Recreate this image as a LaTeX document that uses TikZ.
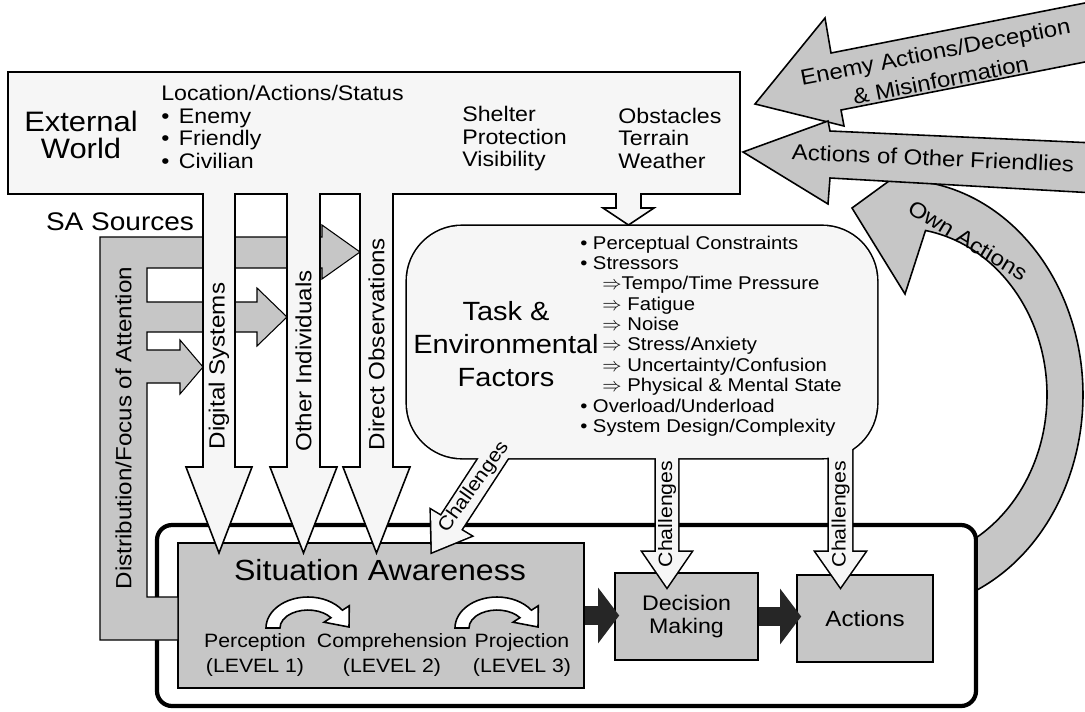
\documentclass[tikz,border=0pt]{standalone}
\usepackage{fontspec}
\setmainfont{Liberation Sans}[FakeStretch=1.1]
\usetikzlibrary{positioning, arrows.meta}

\newcommand{\fsz}[2]{\fontsize{#1}{#2}\selectfont}

\tikzset{
    lightshape/.style = {fill=gray!7, draw=black, line width=0.9pt},
    darkshape/.style = {fill=gray!45, draw=black, line width=0.9pt},
    blockarrow/.style = {draw=black!85, line width=11pt, -{Triangle[length=12pt, width=31pt]}, shorten >=-0.1cm},
    srclabel/.style = {rotate=90, font=\fsz{12.5}{14}},
    chlabel/.style = {font=\fsz{11}{12}},
    darklabel/.style = {font=\fsz{12.4}{16.5}, align=center},
    listtext/.style = {align=left, anchor=west, inner sep=0pt},
}

\begin{document}
\begin{tikzpicture}[x=0.02cm, y=-0.02cm]
    \useasboundingbox[fill=white] (0,0) rectangle (1085,711);

    % frame round SA, decision and actions
    \draw[line width=2.4pt, rounded corners=0.3cm] (157,525) rectangle (976,706);

    \node[darkshape, minimum width=8.12cm, minimum height=2.9cm] (sa) at (381,615.5) {};
    \node[darkshape, minimum width=2.86cm, minimum height=1.74cm, align=center, font=\fsz{12}{13.5}] (dm) at (686.5,616.5) {Decision\\Making};
    \node[darkshape, minimum width=2.72cm, minimum height=1.74cm, font=\fsz{12.5}{14}] (act) at (865,618.5) {Actions};

    \draw[blockarrow] (sa.east) -- (sa.east -| dm.west);
    \draw[blockarrow] (dm.east) -- (dm.east -| act.west);

    % level to level arrows
    \foreach \cx in {308,497}
        \draw[line width=0.9pt, fill=white] ({\cx-42},628) arc[start angle=180, end angle=325, x radius=42, y radius=31]
            -- ++(6.9,-4.5) -- ({\cx+41},627) -- ({\cx+16},622.2) -- ({\cx+22.9},617.7)
            arc[start angle=325, end angle=180, x radius=28, y radius=18] -- cycle;

    % distribution / focus of attention
    \draw[fill=gray!45, draw=black, line width=0.6pt] (100,237) -- (322,237) -- (322,225) -- (360,252) -- (322,279) -- (322,268)
        -- (147,268) -- (147,302) -- (257,302) -- (257,288) -- (287,317) -- (257,346) -- (257,332)
        -- (147,332) -- (147,350) -- (180,350) -- (180,340) -- (203,367) -- (180,394) -- (180,383)
        -- (147,383) -- (147,597) -- (178,597) -- (178,640) -- (100,640) -- cycle;

    % external world with its three sources
    \draw[lightshape] (8,72) -- (740,72) -- (740,194) -- (641,194) -- (641,208) -- (654,208) -- (628.5,225) -- (603,208)
        -- (616,208) -- (616,194) -- (393,194) -- (393,467) -- (410,467) -- (376.5,553) -- (343,467) -- (360,467)
        -- (360,194) -- (320,194) -- (320,467) -- (337,467) -- (303.5,553) -- (270,467) -- (287,467)
        -- (287,194) -- (235,194) -- (235,467) -- (252,467) -- (219,553) -- (186,467) -- (203,467)
        -- (203,194) -- (8,194) -- cycle;

    % task and environmental factors with the challenges
    \def\diagch{(505,418) -- (441,516) -- (431,510) -- (432,552) -- (471,536) -- (461,530) -- (525,432) -- cycle}
    \def\dmch{(656,440) -- (656,552) -- (643,552) -- (667,587) -- (691,552) -- (678,552) -- (678,440) -- cycle}
    \def\actch{(829,440) -- (829,552) -- (816,552) -- (840.5,587) -- (865,552) -- (852,552) -- (852,440) -- cycle}
    \draw[line width=1.8pt, rounded corners=1.1cm] (407,226) rectangle (877,458);
    \draw[line width=1.8pt] \diagch \dmch \actch;
    \fill[gray!7, rounded corners=1.1cm] (407,226) rectangle (877,458);
    \fill[gray!7] \diagch;
    \fill[gray!7] \dmch;
    \fill[gray!7] \actch;

    % own actions
    \draw[darkshape] (977,590) arc[start angle=65.1, end angle=-80, x radius=183, y radius=215]
        -- (937,146) -- (852,208) -- (905,294) -- (925.5,230.5)
        arc[start angle=-80, end angle=58.4, x radius=147, y radius=167] -- cycle;

    % incoming actions
    \draw[darkshape] (1095,1) -- (831,53) -- (825,18) -- (755,104) -- (844,126) -- (841,110) -- (1095,60) -- cycle;
    \draw[darkshape] (1095,143) -- (830,131) -- (828,121) -- (743,152) -- (828,204) -- (830,178) -- (1095,193) -- cycle;

    % labels
    \node[font=\fsz{16}{15}, align=center] (extw) at (81,135) {External\\World};
    \node[listtext, font=\fsz{12}{12.8}] (locs) at (161,127) {Location/Actions/Status\\•\hspace{0.45em}Enemy\\•\hspace{0.45em}Friendly\\•\hspace{0.45em}Civilian};
    \node[listtext, font=\fsz{12}{12.8}] (shelter) at (462,139) {Shelter\\Protection\\Visibility};
    \node[listtext, font=\fsz{12}{12.8}] (obst) at (618,138) {Obstacles\\Terrain\\Weather};

    \node[font=\fsz{14.5}{16}] (sasrc) at (120,222) {SA Sources};
    \node[srclabel] (digi) at (219,366) {Digital Systems};
    \node[srclabel] (other) at (303.5,361) {Other Individuals};
    \node[srclabel] (direct) at (376.5,344) {Direct Observations};
    \node[srclabel] (distr) at (123.5,428) {Distribution/Focus of Attention};

    \node[font=\fsz{15}{18.8}, align=center] (task) at (506,344) {Task \&\\Environmental\\Factors};
    \node[listtext, font=\fsz{10.5}{11.6}] (factors) at (580,336) {•\hspace{0.3em}Perceptual Constraints\\
        •\hspace{0.3em}Stressors\\
        \hspace*{1.2em}$\Rightarrow$Tempo/Time Pressure\\
        \hspace*{1.2em}$\Rightarrow$ Fatigue\\
        \hspace*{1.2em}$\Rightarrow$ Noise\\
        \hspace*{1.2em}$\Rightarrow$ Stress/Anxiety\\
        \hspace*{1.2em}$\Rightarrow$ Uncertainty/Confusion\\
        \hspace*{1.2em}$\Rightarrow$ Physical \& Mental State\\
        •\hspace{0.3em}Overload/Underload\\
        •\hspace{0.3em}System Design/Complexity};

    \node[chlabel, rotate=54.5] (ch1) at (474,487) {Challenges};
    \node[chlabel, rotate=90] (ch2) at (667,514) {Challenges};
    \node[chlabel, rotate=90] (ch3) at (840.5,514) {Challenges};

    \node[font=\fsz{16.6}{18}] (satitle) at (380,570) {Situation Awareness};
    \node[font=\fsz{11}{14.2}, align=center] (perc) at (255,655) {Perception\\(LEVEL 1)};
    \node[font=\fsz{11}{14.2}, align=center] (comp) at (392,655) {Comprehension\\(LEVEL 2)};
    \node[font=\fsz{11}{14.2}, align=center] (proj) at (522,655) {Projection\\(LEVEL 3)};

    \node[darklabel, rotate=11] (enemy) at (938,66) {Enemy Actions/Deception\\\& Misinformation};
    \node[darklabel, rotate=-2.5] (friend) at (933,158) {Actions of Other Friendlies};
    \node[darklabel, rotate=-31] (own) at (968,240) {Own Actions};
\end{tikzpicture}
\end{document}
